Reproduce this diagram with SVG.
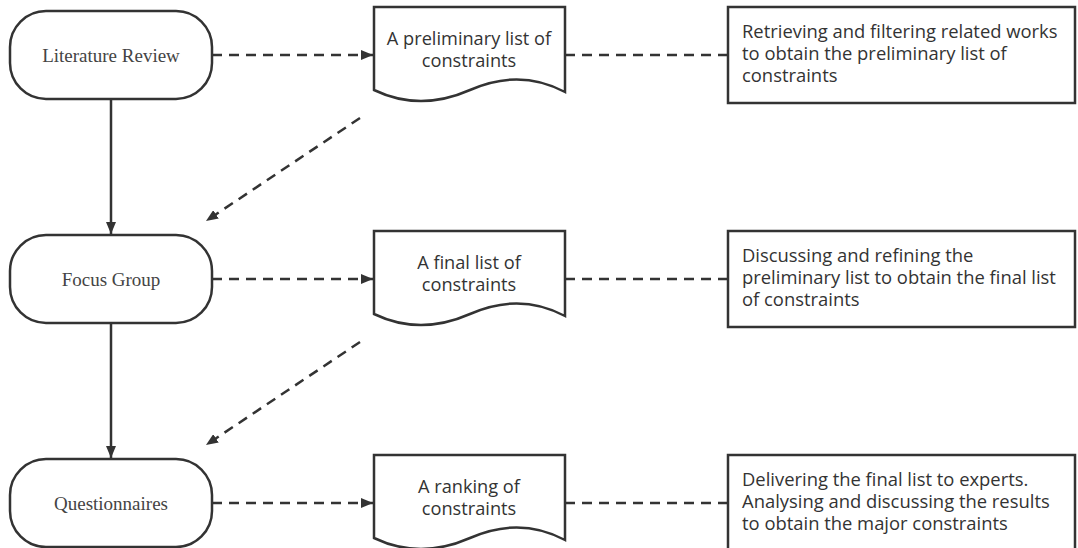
<svg xmlns="http://www.w3.org/2000/svg" width="1078" height="548" viewBox="0 0 1078 548">
  <style>
    .shape { fill: #ffffff; stroke: #333333; stroke-width: 2.5; }
    .term { font-family: "Liberation Serif", "Times New Roman", serif; font-size: 19px; fill: #444444; text-anchor: middle; }
    .doc { font-family: "Open Sans", "Noto Sans", sans-serif; font-size: 18.2px; fill: #333333; text-anchor: middle; }
    .note { font-family: "Open Sans", "Noto Sans", sans-serif; font-size: 18.4px; fill: #333333; }
    .solid { fill: none; stroke: #333333; stroke-width: 2.5; }
    .dash { fill: none; stroke: #333333; stroke-width: 2.5; stroke-dasharray: 10 7; }
  </style>
  <defs>
    <marker id="arrow" viewBox="0 0 12 10" refX="12" refY="5" markerWidth="12" markerHeight="10" markerUnits="userSpaceOnUse" orient="auto">
      <path d="M0,0 L12,5 L0,10 Z" fill="#333333"/>
    </marker>
    <!-- document outline with wavy bottom edge, origin at top-left -->
    <path id="docShape" d="M0,0 H191 V85 Q146,61 96,83 Q46,105 0,83 Z"/>
  </defs>
  <rect width="1078" height="548" fill="#ffffff"/>

  <!-- connectors -->
  <g id="connectors">
    <line class="solid" x1="111" y1="99" x2="111" y2="234" marker-end="url(#arrow)"/>
    <line class="solid" x1="111" y1="323" x2="111" y2="458" marker-end="url(#arrow)"/>
    <line class="dash" x1="212" y1="55" x2="373" y2="55" marker-end="url(#arrow)"/>
    <line class="dash" x1="212" y1="279" x2="373" y2="279" marker-end="url(#arrow)"/>
    <line class="dash" x1="212" y1="503" x2="373" y2="503" marker-end="url(#arrow)"/>
    <line class="dash" x1="565" y1="55" x2="728" y2="55"/>
    <line class="dash" x1="565" y1="279" x2="728" y2="279"/>
    <line class="dash" x1="565" y1="503" x2="728" y2="503"/>
    <line class="dash" x1="360" y1="118" x2="206" y2="221" marker-end="url(#arrow)"/>
    <line class="dash" x1="360" y1="342" x2="206" y2="445" marker-end="url(#arrow)"/>
  </g>

  <!-- row 1 -->
  <g id="literature-review">
    <rect class="shape" x="10" y="11" width="202" height="88" rx="36" ry="36"/>
    <text class="term" x="111" y="62">Literature Review</text>
  </g>
  <g id="preliminary-list">
    <use href="#docShape" class="shape" x="374" y="7"/>
    <text class="doc" x="469" y="45">A preliminary list of</text>
    <text class="doc" x="469" y="67">constraints</text>
  </g>
  <g id="note-1">
    <rect class="shape" x="728" y="7" width="347" height="96"/>
    <text class="note" x="742" y="38">Retrieving and filtering related works</text>
    <text class="note" x="742" y="60">to obtain the preliminary list of</text>
    <text class="note" x="742" y="82">constraints</text>
  </g>

  <!-- row 2 -->
  <g id="focus-group">
    <rect class="shape" x="10" y="235" width="202" height="88" rx="36" ry="36"/>
    <text class="term" x="111" y="286">Focus Group</text>
  </g>
  <g id="final-list">
    <use href="#docShape" class="shape" x="374" y="231"/>
    <text class="doc" x="469" y="269">A final list of</text>
    <text class="doc" x="469" y="291">constraints</text>
  </g>
  <g id="note-2">
    <rect class="shape" x="728" y="231" width="347" height="96"/>
    <text class="note" x="742" y="262">Discussing and refining the</text>
    <text class="note" x="742" y="284">preliminary list to obtain the final list</text>
    <text class="note" x="742" y="306">of constraints</text>
  </g>

  <!-- row 3 -->
  <g id="questionnaires">
    <rect class="shape" x="10" y="459" width="202" height="88" rx="36" ry="36"/>
    <text class="term" x="111" y="510">Questionnaires</text>
  </g>
  <g id="ranking">
    <use href="#docShape" class="shape" x="374" y="455"/>
    <text class="doc" x="469" y="493">A ranking of</text>
    <text class="doc" x="469" y="515">constraints</text>
  </g>
  <g id="note-3">
    <rect class="shape" x="728" y="455" width="347" height="110"/>
    <text class="note" x="742" y="486">Delivering the final list to experts.</text>
    <text class="note" x="742" y="508">Analysing and discussing the results</text>
    <text class="note" x="742" y="530">to obtain the major constraints</text>
  </g>
</svg>
